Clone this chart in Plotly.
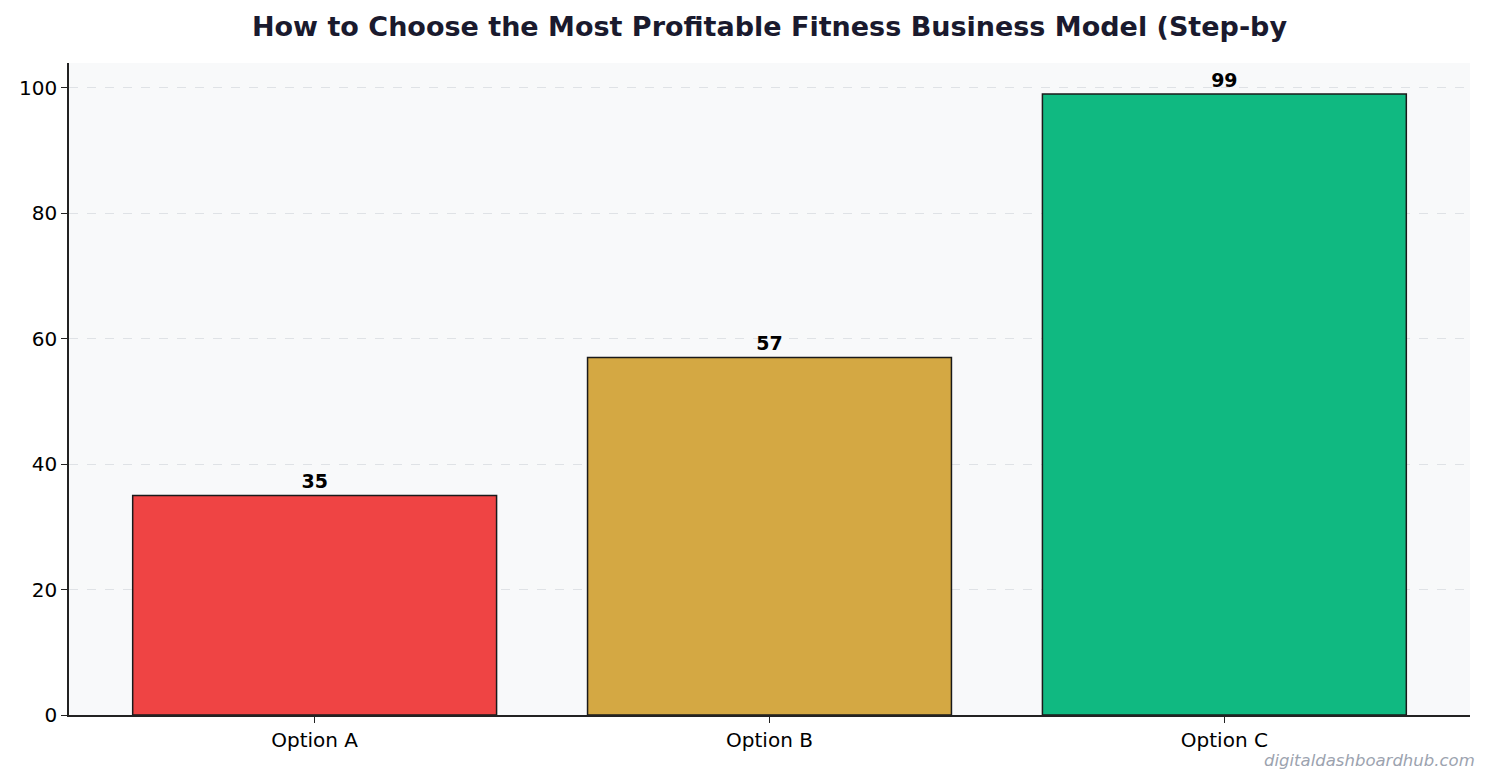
import plotly.graph_objects as go

categories = ["Option A", "Option B", "Option C"]
values = [35, 57, 99]
colors = ["#EF4444", "#D4A843", "#10B981"]
title_text = "How to Choose the Most Profitable Fitness Business Model (Step-by"

# page body has an 8px margin, so the figure is a bit smaller than the window
W, H = 1484, 775

fig = go.Figure()
fig.add_trace(go.Bar(
    x=categories,
    y=values,
    width=0.8,
    marker=dict(color=colors, line=dict(color="#1a1a1a", width=1.5)),
    text=[str(v) for v in values],
    textposition="outside",
    textfont=dict(family="DejaVu Sans", size=19, color="#000000", weight="bold"),
    cliponaxis=False,
    hoverinfo="x+y",
))

fig.update_layout(
    width=W, height=H,
    margin=dict(l=61, r=22, t=55, b=68),
    paper_bgcolor="white",
    plot_bgcolor="#F8F9FA",
    font=dict(family="DejaVu Sans", size=20, color="#000000"),
    showlegend=False,
    title=dict(
        text="<b>" + title_text + "</b>",
        x=0.5, xref="paper", xanchor="center",
        y=1 - 19 / H, yref="container", yanchor="middle",
        font=dict(family="DejaVu Sans", size=27, color="#1a1a2e"),
    ),
    xaxis=dict(
        range=[-0.54, 2.54],
        showline=True, linecolor="#222222", linewidth=1.5,
        ticks="outside", ticklen=6, tickwidth=1.2, tickcolor="#222222",
        showgrid=False, zeroline=False,
    ),
    yaxis=dict(
        range=[0, 103.95],
        tickvals=[0, 20, 40, 60, 80, 100],
        showline=True, linecolor="#222222", linewidth=1.5,
        ticks="outside", ticklen=6, tickwidth=1.2, tickcolor="#222222",
        showgrid=True, gridcolor="#DFE2E6", griddash="dash", gridwidth=1,
        zeroline=False,
    ),
)

fig.add_annotation(
    text="<i>digitaldashboardhub.com</i>",
    xref="paper", yref="paper",
    x=1 + 7 / 1401, y=-45 / 652,
    xanchor="right", yanchor="middle",
    showarrow=False,
    font=dict(family="DejaVu Sans", size=16.5, color="#9CA3AF"),
)

fig.write_html("out.html")
